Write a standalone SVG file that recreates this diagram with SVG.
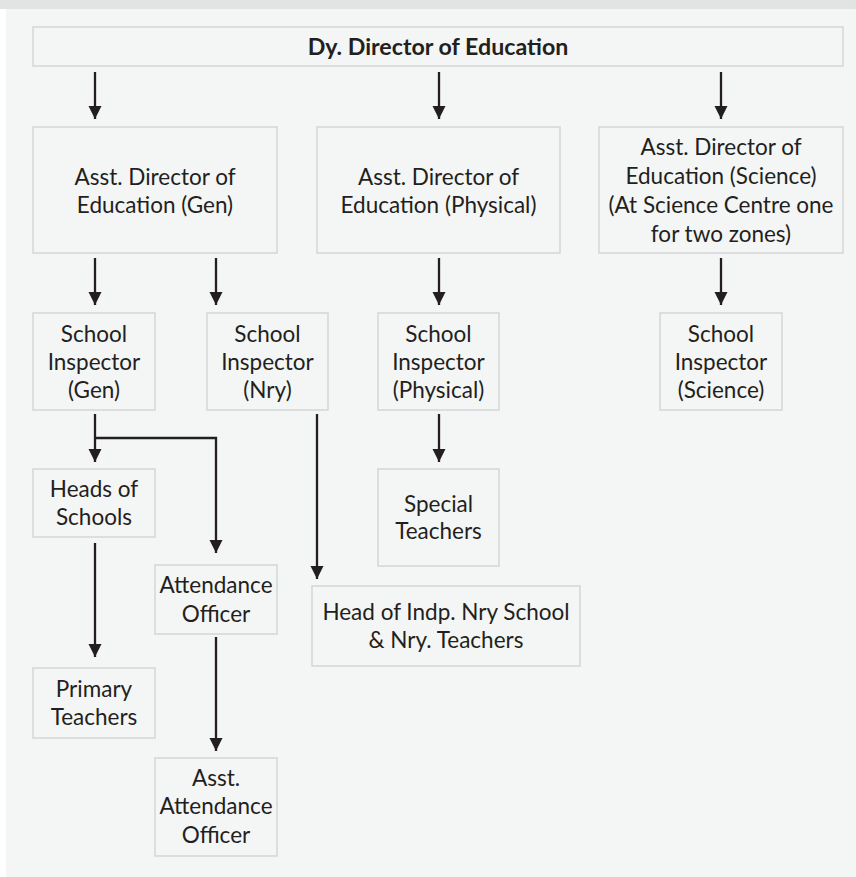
<svg xmlns="http://www.w3.org/2000/svg" width="856" height="877" viewBox="0 0 856 877">
  <defs>
    <marker id="arrowhead" markerUnits="userSpaceOnUse" markerWidth="14" markerHeight="14" viewBox="0 0 14 14" refX="13" refY="7" orient="auto">
      <path d="M0,0.5 L13,7 L0,13.5 z" fill="#231f20"/>
    </marker>
    <style>
      .box { fill: #f4f5f5; stroke: #d6d8d8; stroke-width: 1.6; }
      .lbl { font-family: Lato, "Liberation Sans", sans-serif; font-size: 22.5px; fill: #231f20; text-anchor: middle; }
      .title { font-weight: bold; font-size: 23.2px; }
      .conn { fill: none; stroke: #231f20; stroke-width: 2.3; }
      .arr { marker-end: url(#arrowhead); }
    </style>
  </defs>

  <!-- page background -->
  <rect x="0" y="0" width="856" height="877" fill="#ffffff"/>
  <rect x="6" y="0" width="850" height="877" fill="#f4f5f5"/>
  <rect x="0" y="0" width="856" height="9" fill="#e2e4e3"/>

  <!-- connectors -->
  <g id="connectors">
    <path class="conn arr" d="M95,72 V119"/>
    <path class="conn arr" d="M439,72 V119"/>
    <path class="conn arr" d="M721,72 V119"/>
    <path class="conn arr" d="M95,258 V305"/>
    <path class="conn arr" d="M216,258 V305"/>
    <path class="conn arr" d="M439,258 V305"/>
    <path class="conn arr" d="M721,258 V305"/>
    <path class="conn arr" d="M95,414 V462"/>
    <path class="conn arr" d="M95,438 H216 V553"/>
    <path class="conn arr" d="M317,414 V579"/>
    <path class="conn arr" d="M439,414 V462"/>
    <path class="conn arr" d="M95,543 V657"/>
    <path class="conn arr" d="M216,637 V751"/>
  </g>

  <!-- nodes -->
  <g id="dy-director">
    <rect class="box" x="33" y="27" width="810" height="39"/>
    <text class="lbl title" x="438" y="55">Dy. Director of Education</text>
  </g>

  <g id="asst-director-gen">
    <rect class="box" x="33" y="127" width="244" height="126"/>
    <text class="lbl" x="155" y="185">Asst. Director of</text>
    <text class="lbl" x="155" y="213">Education (Gen)</text>
  </g>

  <g id="asst-director-physical">
    <rect class="box" x="317" y="127" width="243" height="126"/>
    <text class="lbl" x="438.5" y="185">Asst. Director of</text>
    <text class="lbl" x="438.5" y="213">Education (Physical)</text>
  </g>

  <g id="asst-director-science">
    <rect class="box" x="599" y="127" width="244" height="126"/>
    <text class="lbl" x="721" y="155">Asst. Director of</text>
    <text class="lbl" x="721" y="184">Education (Science)</text>
    <text class="lbl" x="721" y="213">(At Science Centre one</text>
    <text class="lbl" x="721" y="242">for two zones)</text>
  </g>

  <g id="inspector-gen">
    <rect class="box" x="33" y="313" width="122" height="97"/>
    <text class="lbl" x="94" y="342">School</text>
    <text class="lbl" x="94" y="370">Inspector</text>
    <text class="lbl" x="94" y="398">(Gen)</text>
  </g>

  <g id="inspector-nry">
    <rect class="box" x="207" y="313" width="121" height="97"/>
    <text class="lbl" x="267.5" y="342">School</text>
    <text class="lbl" x="267.5" y="370">Inspector</text>
    <text class="lbl" x="267.5" y="398">(Nry)</text>
  </g>

  <g id="inspector-physical">
    <rect class="box" x="378" y="313" width="121" height="97"/>
    <text class="lbl" x="438.5" y="342">School</text>
    <text class="lbl" x="438.5" y="370">Inspector</text>
    <text class="lbl" x="438.5" y="398">(Physical)</text>
  </g>

  <g id="inspector-science">
    <rect class="box" x="660" y="313" width="122" height="97"/>
    <text class="lbl" x="721" y="342">School</text>
    <text class="lbl" x="721" y="370">Inspector</text>
    <text class="lbl" x="721" y="398">(Science)</text>
  </g>

  <g id="heads-of-schools">
    <rect class="box" x="33" y="469" width="122" height="68"/>
    <text class="lbl" x="94" y="497">Heads of</text>
    <text class="lbl" x="94" y="525">Schools</text>
  </g>

  <g id="special-teachers">
    <rect class="box" x="378" y="469" width="121" height="97"/>
    <text class="lbl" x="438.5" y="512">Special</text>
    <text class="lbl" x="438.5" y="539">Teachers</text>
  </g>

  <g id="attendance-officer">
    <rect class="box" x="155" y="565" width="122" height="69"/>
    <text class="lbl" x="216" y="593">Attendance</text>
    <text class="lbl" x="216" y="622">Officer</text>
  </g>

  <g id="head-indp-nry">
    <rect class="box" x="312" y="586" width="268" height="80"/>
    <text class="lbl" x="446" y="620">Head of Indp. Nry School</text>
    <text class="lbl" x="446" y="648">&amp; Nry. Teachers</text>
  </g>

  <g id="primary-teachers">
    <rect class="box" x="33" y="668" width="122" height="70"/>
    <text class="lbl" x="94" y="697">Primary</text>
    <text class="lbl" x="94" y="725">Teachers</text>
  </g>

  <g id="asst-attendance-officer">
    <rect class="box" x="155" y="758" width="122" height="98"/>
    <text class="lbl" x="216" y="786">Asst.</text>
    <text class="lbl" x="216" y="814">Attendance</text>
    <text class="lbl" x="216" y="843">Officer</text>
  </g>
</svg>
